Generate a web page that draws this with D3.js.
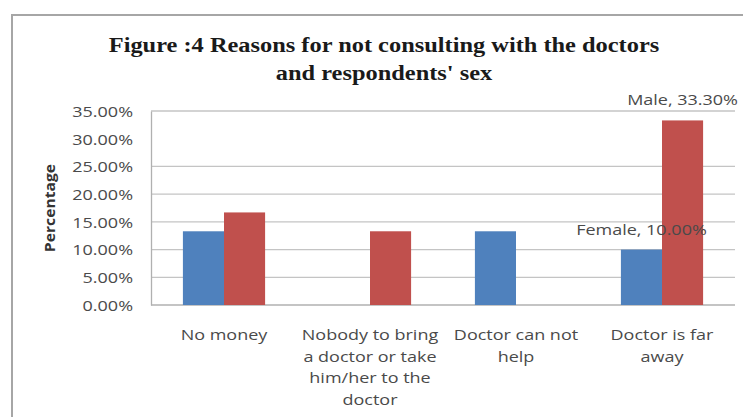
<!DOCTYPE html>
<html>
<head>
<meta charset="utf-8">
<script src="https://cdn.jsdelivr.net/npm/d3@7"></script>
<style>
  body { margin: 0; background: #fff; }
  svg { display: block; }
</style>
</head>
<body>
<svg width="743" height="417"></svg>
<script>
// data
var categories = ['No money', 'Nobody to bring a doctor or take him/her to the doctor', 'Doctor can not help', 'Doctor is far away'];
var categoryLines = [['No money'], ['Nobody to bring', 'a doctor or take', 'him/her to the', 'doctor'], ['Doctor can not', 'help'], ['Doctor is far', 'away']];
var seriesNames = ['Female', 'Male'];
var female = [0.133, 0, 0.133, 0.10];
var male = [0.167, 0.133, 0, 0.333];
var yTicks = [0, 0.05, 0.10, 0.15, 0.20, 0.25, 0.30, 0.35];
var gridTicks = [0.05, 0.10, 0.15, 0.20, 0.25, 0.35];  // the 30% line is not drawn in the original
var colors = ['#4f81bd', '#c0504d'];

var svg = d3.select('svg');
var plotLeft = 151, plotRight = 735, plotTop = 111, plotBottom = 305;
var sx = 1.2; // the original is stretched horizontally

// outer chart frame
svg.append('rect')
  .attr('x', 12).attr('y', 15).attr('width', 760).attr('height', 430)
  .attr('fill', 'none').attr('stroke', '#a6a6a6').attr('stroke-width', 2);

// title
var title = ['Figure :4 Reasons for not consulting with the doctors', 'and respondents\' sex'];
svg.selectAll('text.title').data(title).enter().append('text')
  .attr('class', 'title')
  .attr('transform', function (d, i) { return 'translate(384,' + (52 + i * 28) + ') scale(1.22,1)'; })
  .attr('text-anchor', 'middle')
  .attr('font-family', 'Liberation Serif, Times New Roman, serif')
  .attr('font-weight', 'bold').attr('font-size', '20px').attr('fill', '#1a1a1a')
  .text(function (d) { return d; });

var y = d3.scaleLinear().domain([0, 0.35]).range([plotBottom, plotTop]);
var x0 = d3.scaleBand().domain(categories).range([plotLeft, plotRight]).paddingInner(0.437).paddingOuter(0.2185);
var x1 = d3.scaleBand().domain(seriesNames).range([0, x0.bandwidth()]);

// gridlines
svg.append('g').selectAll('line').data(gridTicks).enter().append('line')
  .attr('x1', plotLeft).attr('x2', plotRight)
  .attr('y1', function (d) { return y(d); }).attr('y2', function (d) { return y(d); })
  .attr('stroke', '#c4c4c4').attr('stroke-width', 1.3);

// y axis
var yAxis = svg.append('g').attr('transform', 'translate(' + plotLeft + ',0)')
  .call(d3.axisLeft(y).tickValues(yTicks).tickFormat(d3.format('.2%')).tickSize(0).tickPadding(0));
yAxis.select('.domain').attr('stroke', '#b0b0b0').attr('stroke-width', 1.3);
yAxis.selectAll('text')
  .attr('x', -18 / sx).attr('dy', '0.36em')
  .attr('transform', 'scale(' + sx + ',1)')
  .attr('font-family', 'Open Sans, sans-serif').attr('font-size', '15px').attr('fill', '#4a4a4a');

// x axis line
svg.append('line').attr('x1', plotLeft).attr('x2', plotRight).attr('y1', plotBottom).attr('y2', plotBottom)
  .attr('stroke', '#b0b0b0').attr('stroke-width', 1.3);

// bars
var rows = categories.map(function (c, i) { return {cat: c, values: [female[i], male[i]]}; });
var groups = svg.append('g').selectAll('g').data(rows).enter().append('g')
  .attr('transform', function (d) { return 'translate(' + x0(d.cat) + ',0)'; });
groups.selectAll('rect').data(function (d) { return d.values.map(function (v, j) { return {v: v, s: seriesNames[j], j: j}; }); })
  .enter().append('rect')
  .attr('x', function (d) { return x1(d.s); })
  .attr('width', x1.bandwidth())
  .attr('y', function (d) { return y(d.v); })
  .attr('height', function (d) { return plotBottom - y(d.v); })
  .attr('fill', function (d) { return colors[d.j]; });

// data labels on the last group
var last = categories.length - 1;
var labels = [{s: 'Female', v: female[last]}, {s: 'Male', v: male[last]}];
svg.selectAll('text.dlabel').data(labels).enter().append('text')
  .attr('class', 'dlabel')
  .attr('transform', function (d) {
    return 'translate(' + (x0(categories[last]) + x1(d.s) + x1.bandwidth() / 2) + ',' + (y(d.v) - 15) + ') scale(' + sx + ',1)';
  })
  .attr('text-anchor', 'middle')
  .attr('font-family', 'Open Sans, sans-serif').attr('font-size', '15px').attr('fill', '#4a4a4a')
  .text(function (d) { return d.s + ', ' + d3.format('.2%')(d.v); });

// category labels
categoryLines.forEach(function (lines, i) {
  var cx = x0(categories[i]) + x0.bandwidth() / 2;
  svg.append('g').selectAll('text').data(lines).enter().append('text')
    .attr('transform', function (d, k) { return 'translate(' + cx + ',' + (plotBottom + 35 + k * 21.7) + ') scale(' + sx + ',1)'; })
    .attr('text-anchor', 'middle')
    .attr('font-family', 'Open Sans, sans-serif').attr('font-size', '15px').attr('fill', '#4a4a4a')
    .text(function (d) { return d; });
});

// y axis title
svg.append('text')
  .attr('transform', 'translate(55,' + ((plotTop + plotBottom) / 2) + ') rotate(-90) scale(1.12,1)')
  .attr('text-anchor', 'middle')
  .attr('font-family', 'Open Sans, sans-serif').attr('font-weight', 'bold').attr('font-size', '14px').attr('fill', '#333')
  .text('Percentage');
</script>
</body>
</html>
